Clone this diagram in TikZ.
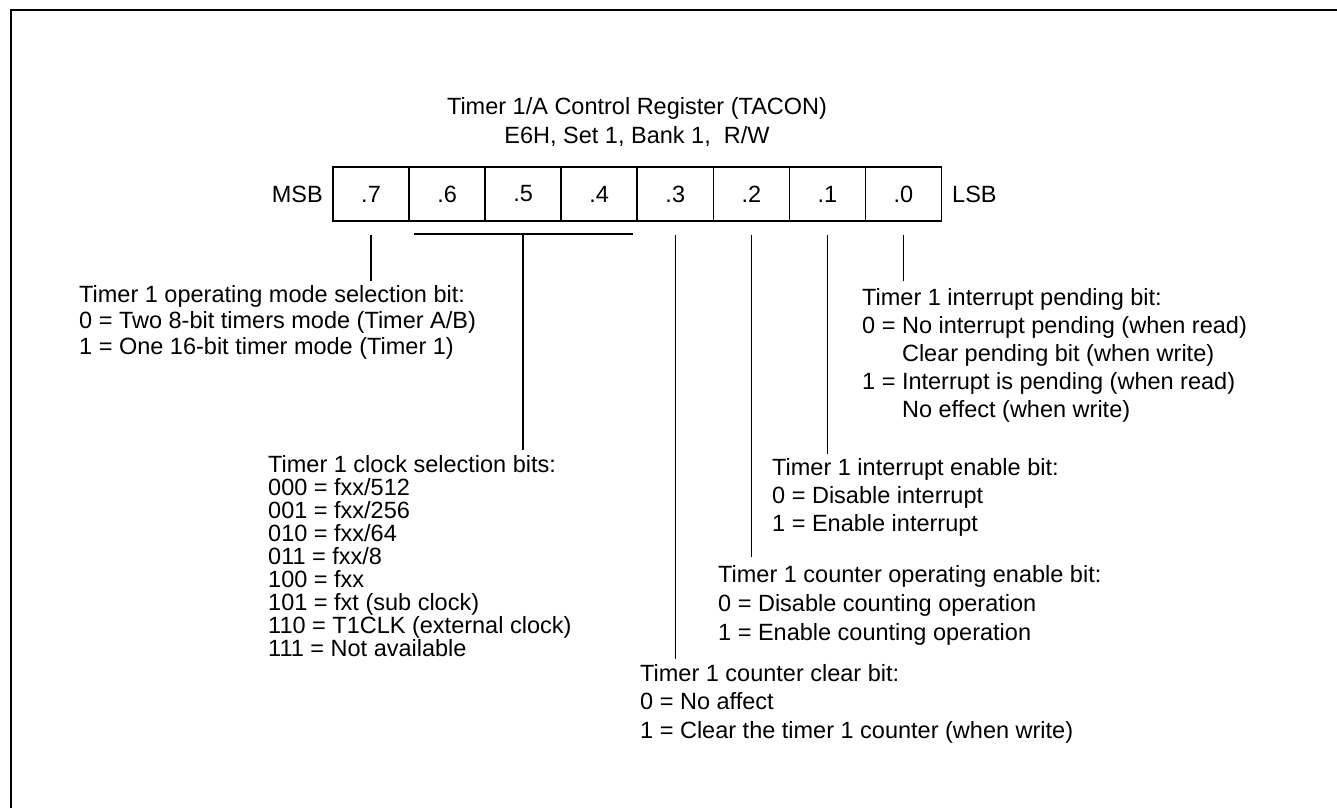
\documentclass[tikz,border=0pt]{standalone}
\usepackage{fontspec}
\setmainfont{Liberation Sans}
\begin{document}
\begin{tikzpicture}[x=1pt,y=-1pt,
  txt/.style={inner sep=0pt,font=\fontsize{23.5pt}{28pt}\selectfont},
  blk/.style={txt,align=left,anchor=north west},
  cell/.style={draw,line width=1.6pt,minimum width=76.06pt,minimum height=54pt,inner sep=0pt,font=\fontsize{23.5pt}{28pt}\selectfont},
  bitline/.style={line width=1.4pt}]
\useasboundingbox (0,0) rectangle (1337,808);
% frame (top and left only)
\draw[line width=2.7pt] (11,808) -- (11,10) -- (1337,10);
% title
\node[txt,anchor=base] (t1) at (637,114.5) {Timer 1/A Control Register (TACON)};
\node[txt,anchor=base] (t2) at (637,143) {E6H, Set 1, Bank 1,\ \ R/W};
% register cells
\node[cell] (c7) at (371.03,194) {.7};
\node[cell] (c6) at (447.09,194) {.6};
\node[cell] (c5) at (523.15,194) {.5};
\node[cell] (c4) at (599.21,194) {.4};
\node[cell] (c3) at (675.27,194) {.3};
\node[cell] (c2) at (751.33,194) {.2};
\node[cell] (c1) at (827.39,194) {.1};
\node[cell] (c0) at (903.45,194) {.0};
\node[txt,anchor=base east] (msb) at (323,202.5) {MSB};
\node[txt,anchor=base west] (lsb) at (952,202.5) {LSB};
% descriptions
\node[blk,font=\fontsize{23.5pt}{26pt}\selectfont] (mode) at (79,285) {Timer 1 operating mode selection bit:\\0 = Two 8-bit timers mode (Timer A/B)\\1 = One 16-bit timer mode (Timer 1)};
\node[blk,font=\fontsize{23.5pt}{23pt}\selectfont] (clk) at (268,455) {Timer 1 clock selection bits:\\000 = fxx/512\\001 = fxx/256\\010 = fxx/64\\011 = fxx/8\\100 = fxx\\101 = fxt (sub clock)\\110 = T1CLK (external clock)\\111 = Not available};
\node[blk,font=\fontsize{23.5pt}{28pt}\selectfont] (pend) at (862,288) {Timer 1 interrupt pending bit:\\0 = No interrupt pending (when read)\\\phantom{0 = }Clear pending bit (when write)\\1 = Interrupt is pending (when read)\\\phantom{1 = }No effect (when write)};
\node[blk] (ien) at (772,458) {Timer 1 interrupt enable bit:\\0 = Disable interrupt\\1 = Enable interrupt};
\node[blk,font=\fontsize{23.5pt}{29pt}\selectfont] (cen) at (718,565) {Timer 1 counter operating enable bit:\\0 = Disable counting operation\\1 = Enable counting operation};
\node[blk,font=\fontsize{23.5pt}{28.5pt}\selectfont] (clr) at (640,664) {Timer 1 counter clear bit:\\0 = No affect\\1 = Clear the timer 1 counter (when write)};
% end points
\coordinate (e7) at (371.03,281);
\coordinate (e0) at (903.45,281);
\coordinate (e5) at (523.15,450);
\coordinate (e1) at (827.39,454);
\coordinate (e2) at (751.33,557);
\coordinate (e3) at (675.27,659);
\coordinate (bl) at (414,234);
\coordinate (br) at (633,234);
% connectors
\draw[bitline] ([yshift=-13pt]c7.south) -- (e7);
\draw[bitline] (bl) -- (br);
\draw[bitline] ([yshift=-13pt]c5.south) -- (e5);
\draw[bitline] ([yshift=-13pt]c3.south) -- (e3);
\draw[bitline] ([yshift=-13pt]c2.south) -- (e2);
\draw[bitline] ([yshift=-13pt]c1.south) -- (e1);
\draw[bitline] ([yshift=-13pt]c0.south) -- (e0);
\end{tikzpicture}
\end{document}
